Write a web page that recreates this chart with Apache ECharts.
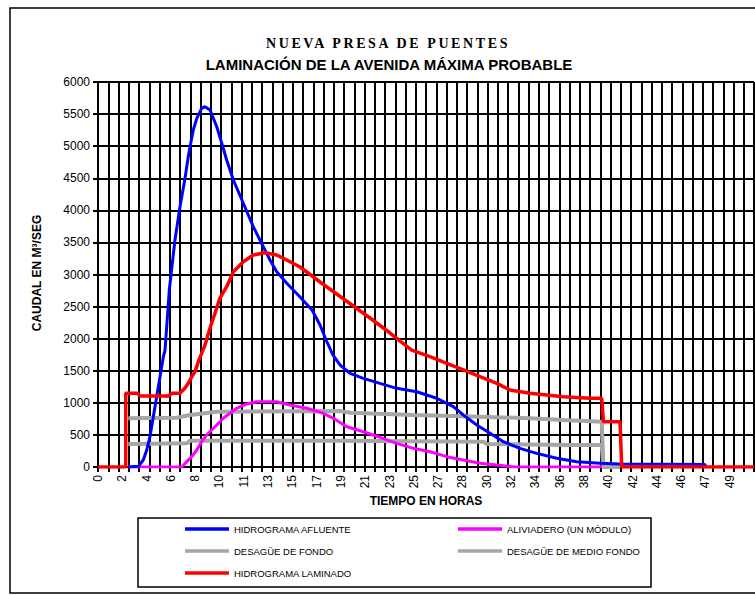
<!DOCTYPE html>
<html>
<head>
<meta charset="utf-8">
<script src="https://cdn.jsdelivr.net/npm/echarts@6/dist/echarts.min.js"></script>
<style>
html,body{margin:0;padding:0;background:#fff;}
#chart{width:755px;height:595px;}
</style>
</head>
<body>
<div id="chart"></div>
<script>
// ---- data (time in hours, flow in m3/s) ----
const HOURS_MAX = 50.88;
const GRID_CELLS = 64;
const TICK_LABELS = ['0','2','4','6','8','10','11','13','15','17','19','21','23','25','27','28','30','32','34','36','38','40','42','44','46','47','49',''];

const afluente = [[2.35,0],[3.13,10],[3.51,109],[3.78,265],[4.03,472],[4.29,784],[4.55,1096],[4.81,1407],[5.07,1719],[5.20,1823],[5.53,2758],[5.97,3538],[6.36,4057],[6.75,4499],[7.00,4836],[7.14,4992],[7.39,5252],[7.66,5434],[8.04,5590],[8.30,5615],[8.69,5563],[9.21,5303],[9.60,5045],[9.98,4785],[10.50,4473],[11.27,4110],[12.04,3745],[12.82,3433],[13.34,3226],[13.86,3044],[14.64,2863],[15.67,2649],[16.60,2447],[17.22,2213],[17.69,1979],[18.23,1745],[18.77,1590],[19.55,1460],[20.58,1382],[21.87,1304],[23.17,1226],[24.72,1173],[26.27,1071],[27.56,940],[28.34,810],[29.38,655],[30.41,525],[31.44,394],[32.73,291],[34.03,213],[35.58,136],[37.13,83],[38.94,58],[40.49,45],[47.08,40],[47.10,0]];

const aliviadero = [[2.35,0],[6.49,0],[6.88,83],[7.27,161],[7.66,265],[8.04,394],[8.43,499],[8.82,577],[9.21,655],[9.72,759],[10.24,837],[10.76,915],[11.53,982],[12.31,1018],[13.86,1018],[14.89,966],[16.19,915],[17.48,837],[18.25,759],[19.29,628],[20.58,550],[21.87,463],[23.17,369],[24.46,291],[25.75,238],[27.05,161],[28.34,109],[29.63,58],[30.93,31],[32.35,0],[39.07,0]];

const desagueFondo = [[2.35,759],[6.10,768],[7.14,810],[9.21,862],[18.77,873],[19.55,846],[24.46,810],[29.63,784],[33.51,759],[36.09,732],[39.07,706],[39.20,0],[40.49,0]];

const desagueMedioFondo = [[2.35,358],[6.88,369],[7.14,410],[18.77,410],[29.89,394],[30.15,358],[36.61,343],[39.07,343],[39.20,0],[40.49,0]];

const laminado = [[0,0],[2.15,0],[2.15,1149],[3.03,1149],[3.26,1107],[5.45,1107],[5.74,1149],[6.36,1149],[6.75,1231],[7.00,1304],[7.27,1407],[7.52,1485],[7.78,1641],[8.04,1772],[8.30,1901],[8.69,2166],[9.08,2400],[9.46,2634],[9.98,2810],[10.50,3044],[11.27,3199],[12.04,3304],[12.95,3340],[13.86,3304],[14.64,3226],[15.67,3117],[17.22,2883],[19.16,2603],[21.10,2322],[22.65,2088],[24.33,1823],[25.75,1719],[27.05,1616],[28.34,1512],[29.63,1407],[30.93,1304],[31.96,1200],[33.51,1149],[36.09,1096],[38.16,1071],[39.07,1071],[39.20,706],[40.49,706],[40.62,0],[50.88,0]];

const NAMES = {
  afluente: 'HIDROGRAMA AFLUENTE',
  aliviadero: 'ALIVIADERO (UN MÓDULO)',
  fondo: 'DESAGÜE DE FONDO',
  medio: 'DESAGÜE DE MEDIO FONDO',
  laminado: 'HIDROGRAMA LAMINADO'
};

const chart = echarts.init(document.getElementById('chart'), null, {renderer: 'svg'});
const FONT = 'Liberation Sans, Arial, sans-serif';

function lineSeries(name, data, color, width, z) {
  return {
    name: name, type: 'line', data: data, xAxisIndex: 0, yAxisIndex: 0,
    showSymbol: false, symbol: 'none', smooth: false, animation: false,
    color: color, lineStyle: {color: color, width: width}, z: z,
    emphasis: {disabled: true}
  };
}

const legendCommon = {
  orient: 'vertical', icon: 'rect', itemWidth: 44, itemHeight: 3.5, itemGap: 10,
  padding: 0, selectedMode: false,
  textStyle: {fontFamily: FONT, fontSize: 9.5, color: '#000', lineHeight: 12}
};

chart.setOption({
  animation: false,
  backgroundColor: '#fff',
  grid: {left: 98, right: 1, top: 82, bottom: 128, containLabel: false},
  xAxis: [
    {type: 'value', min: 0, max: HOURS_MAX, show: false},
    {type: 'value', min: 0, max: GRID_CELLS, interval: 1, position: 'bottom',
      axisLine: {show: true, onZero: false, lineStyle: {color: '#000', width: 2}},
      axisTick: {show: true, inside: false, length: 5, lineStyle: {color: '#000', width: 2}},
      axisLabel: {show: false},
      splitLine: {show: true, lineStyle: {color: '#000', width: 2}}},
    {type: 'category', data: TICK_LABELS, boundaryGap: false, position: 'bottom',
      axisLine: {show: false}, axisTick: {show: false}, splitLine: {show: false},
      axisLabel: {show: true, interval: 0, rotate: 90, margin: 8, fontFamily: FONT, fontSize: 12, color: '#000'}}
  ],
  yAxis: [{
    type: 'value', min: 0, max: 6000, interval: 500,
    axisLine: {show: true, lineStyle: {color: '#000', width: 2}},
    axisTick: {show: true, inside: false, length: 5, lineStyle: {color: '#000', width: 2}},
    axisLabel: {margin: 8, fontFamily: FONT, fontSize: 12, color: '#000', formatter: function (v) { return String(v); }},
    splitLine: {show: true, lineStyle: {color: '#000', width: 2}}
  }],
  legend: [
    Object.assign({left: 185, top: 523, data: [NAMES.afluente, NAMES.fondo, NAMES.laminado]}, legendCommon),
    Object.assign({left: 458, top: 523, data: [NAMES.aliviadero, NAMES.medio]}, legendCommon)
  ],
  graphic: [
    {type: 'rect', shape: {x: 10, y: 8, width: 800, height: 585}, style: {fill: 'none', stroke: '#000', lineWidth: 1.5}, z: -10, silent: true},
    {type: 'rect', shape: {x: 138, y: 518, width: 513, height: 69}, style: {fill: 'none', stroke: '#000', lineWidth: 1.5}, z: -10, silent: true},
    {type: 'text', id: 't1', x: 388, y: 43, style: {text: 'NUEVA PRESA DE PUENTES', fontFamily: 'Liberation Serif, Times New Roman, serif', fontWeight: 'bold', fontSize: 14, fill: '#000', align: 'center', verticalAlign: 'middle'}},
    {type: 'text', x: 389, y: 64, style: {text: 'LAMINACIÓN DE LA AVENIDA MÁXIMA PROBABLE', fontFamily: FONT, fontWeight: 'bold', fontSize: 15, fill: '#000', align: 'center', verticalAlign: 'middle'}},
    {type: 'text', x: 426, y: 501, style: {text: 'TIEMPO EN HORAS', fontFamily: FONT, fontWeight: 'bold', fontSize: 12, fill: '#000', align: 'center', verticalAlign: 'middle'}},
    {type: 'text', x: 37, y: 273, rotation: Math.PI / 2, style: {text: 'CAUDAL EN M³/SEG', fontFamily: FONT, fontWeight: 'bold', fontSize: 12, fill: '#000', align: 'center', verticalAlign: 'middle'}}
  ],
  series: [
    lineSeries(NAMES.fondo, desagueFondo, '#A6A6A6', 4, 2),
    lineSeries(NAMES.medio, desagueMedioFondo, '#A6A6A6', 4, 2),
    lineSeries(NAMES.aliviadero, aliviadero, '#FF00FF', 3, 3),
    lineSeries(NAMES.afluente, afluente, '#0000FF', 3, 4),
    lineSeries(NAMES.laminado, laminado, '#FF0000', 3.5, 5)
  ]
});

function spaceTitle() {
  document.querySelectorAll('#chart svg text').forEach(function (t) {
    if (t.textContent === 'NUEVA PRESA DE PUENTES') {
      t.setAttribute('letter-spacing', '2.6');
      t.style.letterSpacing = '2.6px';
    }
  });
}
spaceTitle();
chart.on('finished', spaceTitle);
</script>
</body>
</html>
